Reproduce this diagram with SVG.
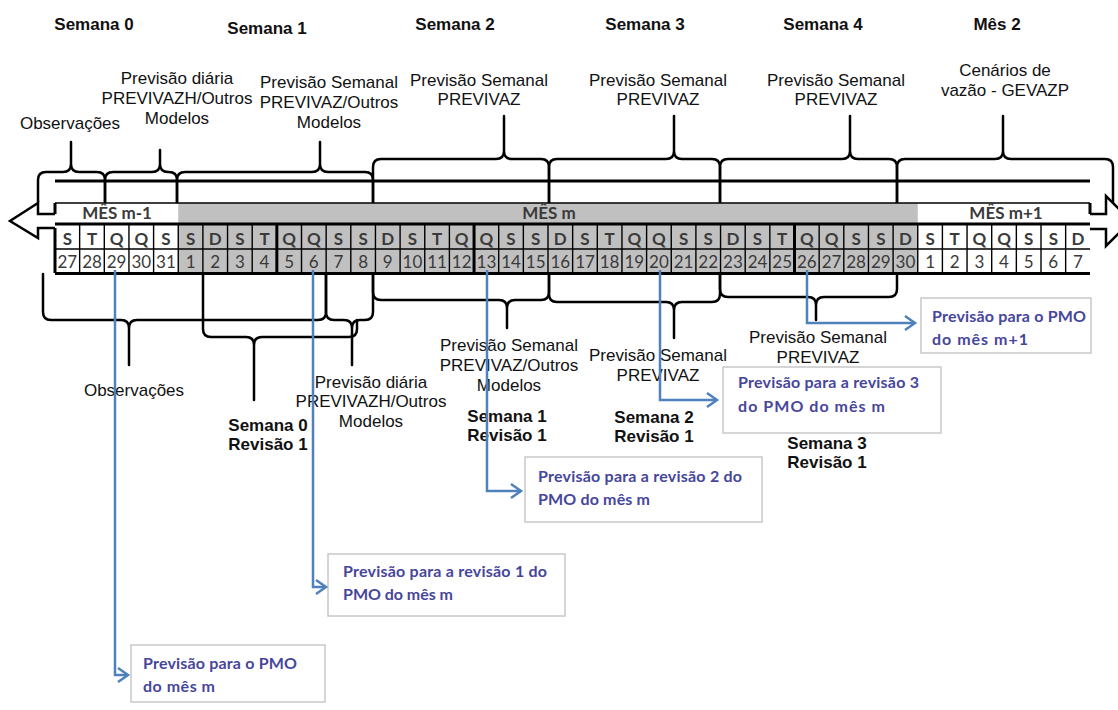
<svg xmlns="http://www.w3.org/2000/svg" width="1118" height="710" viewBox="0 0 1118 710">
<defs>
<style>
.lbl{font-family:"Liberation Sans",Arial,sans-serif;font-size:17px;fill:#111;text-anchor:middle}
.hd{font-family:"Liberation Sans",Arial,sans-serif;font-size:17px;font-weight:bold;fill:#111;text-anchor:middle}
.brace{fill:none;stroke:#000;stroke-width:2.5;stroke-linejoin:round;stroke-linecap:round}
.cal{font-family:Lato,"Liberation Sans",sans-serif;fill:#3a3a3a;text-anchor:middle;font-size:17px}
.dl{font-weight:bold}
.mes{font-family:Lato,"Liberation Sans",sans-serif;fill:#3a3a3a;text-anchor:middle;font-size:17px;font-weight:bold}
.thin{stroke:#000;stroke-width:1.4;fill:none}
.thick{stroke:#000;stroke-width:3;fill:none}
.box{fill:#fff;stroke:#c8c8c8;stroke-width:1.5}
.bt{font-family:Lato,"Liberation Sans",sans-serif;font-size:16px;font-weight:bold;fill:#46469c}
.conn{fill:none;stroke:#4f81bd;stroke-width:2.5}
</style>
<marker id="arr" markerUnits="userSpaceOnUse" markerWidth="20" markerHeight="20" viewBox="-12 -10 14 20" refX="0" refY="0" orient="auto">
<path d="M -10 -7 L 0 0 L -10 7" fill="none" stroke="#4f81bd" stroke-width="2.5"/>
</marker>
</defs>
<rect width="1118" height="710" fill="#fff"/>

<!-- headers -->
<g id="headers">
<text class="hd" x="94" y="30">Semana 0</text>
<text class="hd" x="267" y="34">Semana 1</text>
<text class="hd" x="455" y="30">Semana 2</text>
<text class="hd" x="645" y="30">Semana 3</text>
<text class="hd" x="823" y="30">Semana 4</text>
<text class="hd" x="997" y="30">Mês 2</text>
</g>

<!-- top labels -->
<g id="top-obs"><text class="lbl" x="70" y="129">Observações</text></g>
<g id="top-diaria"><text class="lbl" x="177" y="84">Previsão diária</text><text class="lbl" x="177" y="104">PREVIVAZH/Outros</text><text class="lbl" x="177" y="124">Modelos</text></g>
<g id="top-sem1"><text class="lbl" x="329" y="88">Previsão Semanal</text><text class="lbl" x="329" y="108">PREVIVAZ/Outros</text><text class="lbl" x="329" y="128">Modelos</text></g>
<g id="top-sem2"><text class="lbl" x="479" y="86">Previsão Semanal</text><text class="lbl" x="479" y="105">PREVIVAZ</text></g>
<g id="top-sem3"><text class="lbl" x="658" y="86">Previsão Semanal</text><text class="lbl" x="658" y="105">PREVIVAZ</text></g>
<g id="top-sem4"><text class="lbl" x="836" y="86">Previsão Semanal</text><text class="lbl" x="836" y="105">PREVIVAZ</text></g>
<g id="top-mes2"><text class="lbl" x="1005" y="76">Cenários de</text><text class="lbl" x="1005" y="96">vazão - GEVAZP</text></g>

<!-- top braces -->
<g id="top-braces">
<path class="brace" d="M38 202 V180 Q38 172 46 172 H63 Q71 172 71 164 V142 M105 202 V180 Q105 172 97 172 H79 Q71 172 71 164"/>
<path class="brace" d="M105 202 V180 Q105 172 113 172 H152 Q160 172 160 164 V150 M177 202 V180 Q177 172 169 172 H168 Q160 172 160 164"/>
<path class="brace" d="M177 202 V180 Q177 172 185 172 H312 Q320 172 320 164 V142 M373 202 V180 Q373 172 365 172 H328 Q320 172 320 164"/>
<path class="brace" d="M373 203 V167 Q373 159 381 159 H496 Q504 159 504 151 V116 M549 203 V167 Q549 159 541 159 H512 Q504 159 504 151"/>
<path class="brace" d="M549 203 V167 Q549 159 557 159 H666 Q674 159 674 151 V116 M720 203 V167 Q720 159 712 159 H682 Q674 159 674 151"/>
<path class="brace" d="M720 203 V167 Q720 159 728 159 H842 Q850 159 850 151 V116 M897 203 V167 Q897 159 889 159 H858 Q850 159 850 151"/>
<path class="brace" d="M897 203 V167 Q897 159 905 159 H995 Q1003 159 1003 151 V116 M1113 203 V167 Q1113 159 1105 159 H1011 Q1003 159 1003 151"/>
</g>

<!-- calendar -->
<g id="calendar">
<line class="thick" x1="55" y1="181" x2="1090" y2="181"/>
<rect x="178.25" y="203" width="739.5" height="70" fill="#c0c0c0"/>
<path class="thin" d="M55 203 H1090 M55 249 H1090"/>
<path class="thick" d="M55 224 H1090 M55 273.5 H1090"/>
<path class="thin" d="M79.65 224V273 M104.3 224V273 M128.95 224V273 M153.6 224V273 M178.25 224V273 M202.9 224V273 M227.55 224V273 M252.2 224V273 M301.5 224V273 M326.15 224V273 M350.8 224V273 M375.45 224V273 M400.1 224V273 M424.75 224V273 M449.4 224V273 M498.7 224V273 M523.35 224V273 M548 224V273 M572.65 224V273 M597.3 224V273 M621.95 224V273 M646.6 224V273 M671.25 224V273 M695.9 224V273 M720.55 224V273 M745.2 224V273 M769.85 224V273 M819.15 224V273 M843.8 224V273 M868.45 224V273 M893.1 224V273 M917.75 224V273 M942.4 224V273 M967.05 224V273 M991.7 224V273 M1016.35 224V273 M1041 224V273 M1065.65 224V273"/>
<path class="thick" d="M55 203V214 M55 228V273 M276.85 224V273 M474.05 224V273 M794.5 224V273 M1090 203V214"/>
<path d="M55 214 H38 V203 L10 221 L38 238 V228 H55" fill="#fff" stroke="#000" stroke-width="2.5" stroke-linejoin="miter"/>
<path d="M1090 214 H1106 V196 L1131 221 L1106 246 V229 H1090" fill="#fff" stroke="#000" stroke-width="2.5" stroke-linejoin="miter"/>
<text class="mes" x="117" y="219">MÊS m-1</text>
<text class="mes" x="549" y="219">MÊS m</text>
<text class="mes" x="1006" y="219">MÊS m+1</text>
<g class="cal dl">
<text x="67.3" y="245">S</text><text x="92" y="245">T</text><text x="116.6" y="245">Q</text><text x="141.3" y="245">Q</text><text x="165.9" y="245">S</text>
<text x="190.6" y="245">S</text><text x="215.2" y="245">D</text><text x="239.9" y="245">S</text><text x="264.5" y="245">T</text><text x="289.2" y="245">Q</text><text x="313.8" y="245">Q</text><text x="338.5" y="245">S</text><text x="363.1" y="245">S</text>
<text x="387.8" y="245">D</text><text x="412.4" y="245">S</text><text x="437.1" y="245">T</text><text x="461.7" y="245">Q</text><text x="486.4" y="245">Q</text><text x="511" y="245">S</text><text x="535.7" y="245">S</text>
<text x="560.3" y="245">D</text><text x="585" y="245">S</text><text x="609.6" y="245">T</text><text x="634.3" y="245">Q</text><text x="658.9" y="245">Q</text><text x="683.6" y="245">S</text><text x="708.2" y="245">S</text>
<text x="732.9" y="245">D</text><text x="757.5" y="245">S</text><text x="782.2" y="245">T</text><text x="806.8" y="245">Q</text><text x="831.5" y="245">Q</text><text x="856.1" y="245">S</text><text x="880.8" y="245">S</text>
<text x="905.4" y="245">D</text><text x="930.1" y="245">S</text><text x="954.7" y="245">T</text><text x="979.4" y="245">Q</text><text x="1004" y="245">Q</text><text x="1028.7" y="245">S</text><text x="1053.3" y="245">S</text><text x="1078" y="245">D</text>
</g>
<g class="cal">
<text x="67.3" y="268">27</text><text x="92" y="268">28</text><text x="116.6" y="268">29</text><text x="141.3" y="268">30</text><text x="165.9" y="268">31</text>
<text x="190.6" y="268">1</text><text x="215.2" y="268">2</text><text x="239.9" y="268">3</text><text x="264.5" y="268">4</text><text x="289.2" y="268">5</text><text x="313.8" y="268">6</text><text x="338.5" y="268">7</text><text x="363.1" y="268">8</text>
<text x="387.8" y="268">9</text><text x="412.4" y="268">10</text><text x="437.1" y="268">11</text><text x="461.7" y="268">12</text><text x="486.4" y="268">13</text><text x="511" y="268">14</text><text x="535.7" y="268">15</text>
<text x="560.3" y="268">16</text><text x="585" y="268">17</text><text x="609.6" y="268">18</text><text x="634.3" y="268">19</text><text x="658.9" y="268">20</text><text x="683.6" y="268">21</text><text x="708.2" y="268">22</text>
<text x="732.9" y="268">23</text><text x="757.5" y="268">24</text><text x="782.2" y="268">25</text><text x="806.8" y="268">26</text><text x="831.5" y="268">27</text><text x="856.1" y="268">28</text><text x="880.8" y="268">29</text>
<text x="905.4" y="268">30</text><text x="930.1" y="268">1</text><text x="954.7" y="268">2</text><text x="979.4" y="268">3</text><text x="1004" y="268">4</text><text x="1028.7" y="268">5</text><text x="1053.3" y="268">6</text><text x="1078" y="268">7</text>
</g>
</g>

<!-- bottom braces -->
<g id="bottom-braces">
<path class="brace" d="M43 274 V312 Q43 320 51 320 H121 Q129 320 129 328 V365 M326 274 V312 Q326 320 318 320 H137 Q129 320 129 328"/>
<path class="brace" d="M203 274 V329 Q203 337 211 337 H246 Q254 337 254 345 V400 M357 320 V329 Q357 337 349 337 H262 Q254 337 254 345"/>
<path class="brace" d="M326 274 V312 Q326 320 334 320 H344 Q352 320 352 328 V365 M373 274 V312 Q373 320 365 320 H360 Q352 320 352 328"/>
<path class="brace" d="M373 274 V292 Q373 300 381 300 H499 Q507 300 507 308 V328 M549 274 V292 Q549 300 541 300 H515 Q507 300 507 308"/>
<path class="brace" d="M549 274 V294 Q549 302 557 302 H666 Q674 302 674 310 V338 M720 274 V294 Q720 302 712 302 H682 Q674 302 674 310"/>
<path class="brace" d="M720 274 V289 Q720 297 728 297 H808 Q816 297 816 305 V320 M897 274 V289 Q897 297 889 297 H824 Q816 297 816 305"/>
</g>

<!-- bottom labels -->
<g id="bot-obs"><text class="lbl" x="134" y="396">Observações</text></g>
<g id="bot-sem0"><text class="hd" x="268" y="431">Semana 0</text><text class="hd" x="268" y="450">Revisão 1</text></g>
<g id="bot-diaria"><text class="lbl" x="371" y="388">Previsão diária</text><text class="lbl" x="371" y="407">PREVIVAZH/Outros</text><text class="lbl" x="371" y="427">Modelos</text></g>
<g id="bot-sem1lbl"><text class="lbl" x="509" y="351">Previsão Semanal</text><text class="lbl" x="509" y="371">PREVIVAZ/Outros</text><text class="lbl" x="509" y="391">Modelos</text></g>
<g id="bot-sem1"><text class="hd" x="507" y="422">Semana 1</text><text class="hd" x="507" y="441">Revisão 1</text></g>
<g id="bot-sem2lbl"><text class="lbl" x="658" y="361">Previsão Semanal</text><text class="lbl" x="658" y="381">PREVIVAZ</text></g>
<g id="bot-sem2"><text class="hd" x="654" y="423">Semana 2</text><text class="hd" x="654" y="442">Revisão 1</text></g>
<g id="bot-sem3lbl"><text class="lbl" x="818" y="343">Previsão Semanal</text><text class="lbl" x="818" y="363">PREVIVAZ</text></g>
<g id="bot-sem3"><text class="hd" x="827" y="449">Semana 3</text><text class="hd" x="827" y="468">Revisão 1</text></g>

<!-- boxes -->
<g id="box-pmo-m"><rect class="box" x="131" y="645" width="194" height="57"/><text class="bt" x="143" y="669" textLength="154" lengthAdjust="spacing">Previsão para o PMO</text><text class="bt" x="143" y="692" textLength="72" lengthAdjust="spacing">do mês m</text></g>
<g id="box-rev1"><rect class="box" x="328" y="554" width="237" height="62"/><text class="bt" x="343" y="577" textLength="204" lengthAdjust="spacing">Previsão para a revisão 1 do</text><text class="bt" x="343" y="600" textLength="110" lengthAdjust="spacing">PMO do mês m</text></g>
<g id="box-rev2"><rect class="box" x="525" y="457" width="237" height="65"/><text class="bt" x="538" y="482" textLength="204" lengthAdjust="spacing">Previsão para a revisão 2 do</text><text class="bt" x="538" y="505" textLength="112" lengthAdjust="spacing">PMO do mês m</text></g>
<g id="box-rev3"><rect class="box" x="723" y="367" width="218" height="66"/><text class="bt" x="738" y="388" textLength="181" lengthAdjust="spacing">Previsão para a revisão 3</text><text class="bt" x="738" y="412" textLength="147" lengthAdjust="spacing">do PMO do mês m</text></g>
<g id="box-pmo-m1"><rect class="box" x="921" y="298" width="170" height="55"/><text class="bt" x="932" y="322" textLength="154" lengthAdjust="spacing">Previsão para o PMO</text><text class="bt" x="932" y="345" textLength="96" lengthAdjust="spacing">do mês m+1</text></g>

<!-- connectors -->
<g id="connectors">
<path class="conn" d="M115 270 V675 H128" marker-end="url(#arr)"/>
<path class="conn" d="M313 270 V587 H326" marker-end="url(#arr)"/>
<path class="conn" d="M487 270 V491 H521" marker-end="url(#arr)"/>
<path class="conn" d="M660 270 V400 H717" marker-end="url(#arr)"/>
<path class="conn" d="M807 270 V323 H915" marker-end="url(#arr)"/>
</g>
</svg>
